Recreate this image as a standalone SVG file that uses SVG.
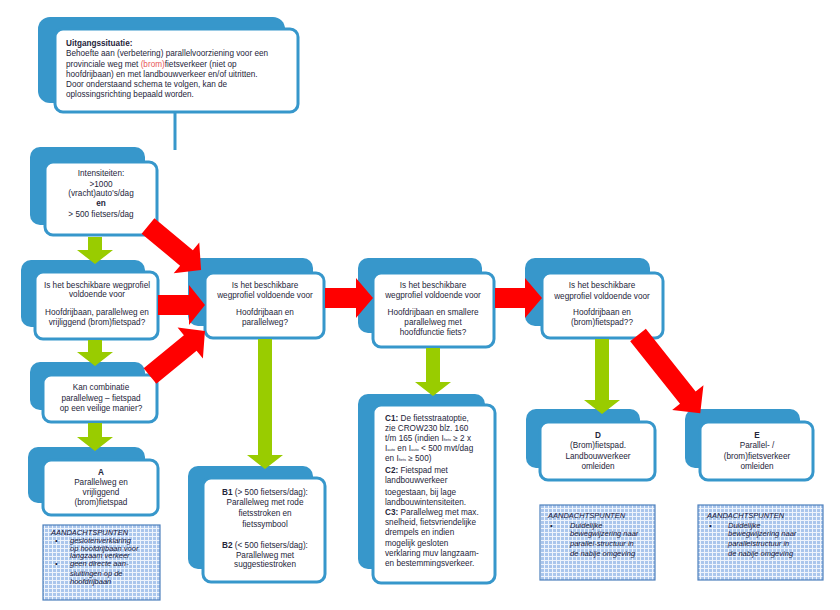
<svg xmlns="http://www.w3.org/2000/svg" width="840" height="610" viewBox="0 0 840 610">
<defs>
<pattern id="grid" width="4" height="4" patternUnits="userSpaceOnUse">
<rect width="4" height="4" fill="#aac6ec"/>
<path d="M0 0.5H4M0.5 0V4" stroke="#eef4fc" stroke-width="1"/>
</pattern>
<style>
.back{fill:#3797cb}
.front{fill:#fff;stroke:#3797cb;stroke-width:3}
text{font-family:"Liberation Sans",Arial,sans-serif;font-size:8.2px;fill:#25253a}
.c{text-anchor:middle}
.b{font-weight:bold}
.note{fill:url(#grid);stroke:#4f81bd;stroke-width:1.2}
.n text{font-style:italic;font-size:7.5px;fill:#14143a}
.red{fill:#ff0000}
.green{fill:#99cc00}
.sub{font-size:4px}
</style>
</defs>
<rect width="840" height="610" fill="#fff"/>

<g id="start">
<rect class="back" x="38" y="17" width="247" height="86" rx="12"/>
<rect class="front" x="55" y="29" width="243" height="83" rx="8"/>
<text x="66" y="46"><tspan class="b">Uitgangssituatie:</tspan></text>
<text x="66" y="56">Behoefte aan (verbetering) parallelvoorziening voor een</text>
<text x="66" y="67">provinciale weg met <tspan fill="#e8585a">(brom)</tspan>fietsverkeer (niet op</text>
<text x="66" y="77">hoofdrijbaan) en met  landbouwverkeer en/of uitritten.</text>
<text x="66" y="87">Door onderstaand schema te volgen, kan de</text>
<text x="66" y="97">oplossingsrichting bepaald worden.</text>
</g>

<g id="intensiteiten">
<rect class="back" x="30" y="147" width="115" height="78" rx="10"/>
<rect class="front" x="45" y="162" width="112" height="73" rx="8"/>
<text class="c" x="101" y="176">Intensiteiten:</text>
<text class="c" x="101" y="187">&gt;1000</text>
<text class="c" x="101" y="196">(vracht)auto’s/dag</text>
<text class="c b" x="101" y="206">en</text>
<text class="c" x="101" y="217">&gt; 500 fietsers/dag</text>
</g>

<g id="vraag1">
<rect class="back" x="21" y="260" width="124" height="67" rx="10"/>
<rect class="front" x="35" y="272" width="123" height="67" rx="8"/>
<text class="c" x="97" y="288">Is het beschikbare wegprofiel</text>
<text class="c" x="97" y="297">voldoende voor</text>
<text class="c" x="97" y="315">Hoofdrijbaan, parallelweg en</text>
<text class="c" x="97" y="325">vrijliggend (brom)fietspad?</text>
</g>

<g id="combinatie">
<rect class="back" x="30" y="362" width="115" height="48" rx="10"/>
<rect class="front" x="43" y="375" width="114" height="47" rx="8"/>
<text class="c" x="101" y="390">Kan combinatie</text>
<text class="c" x="101" y="401">parallelweg – fietspad</text>
<text class="c" x="101" y="411">op een veilige manier?</text>
</g>

<g id="A">
<rect class="back" x="28" y="447" width="117" height="56" rx="10"/>
<rect class="front" x="43" y="460" width="115" height="55" rx="8"/>
<text class="c b" x="101" y="475">A</text>
<text class="c" x="101" y="485">Parallelweg en</text>
<text class="c" x="101" y="495">vrijliggend</text>
<text class="c" x="101" y="505">(brom)fietspad</text>
</g>

<g id="aandacht-A" class="n">
<rect class="note" x="43" y="525" width="117" height="75"/>
<text x="51" y="534.5">AANDACHTSPUNTEN</text>
<text x="55" y="543">•</text>
<text x="70" y="543">geslotenverklaring</text>
<text x="70" y="550.5">op hoofdrijbaan voor</text>
<text x="70" y="558">langzaam verkeer</text>
<text x="55" y="566">•</text>
<text x="70" y="566">geen directe aan-</text>
<text x="70" y="575.5">sluitingen op de</text>
<text x="70" y="583.5">hoofdrijbaan</text>
</g>

<g id="vraagB">
<rect class="back" x="188" y="258" width="125" height="68" rx="10"/>
<rect class="front" x="205" y="273" width="119" height="65" rx="8"/>
<text class="c" x="265" y="288">Is het beschikbare</text>
<text class="c" x="265" y="298">wegprofiel voldoende voor</text>
<text class="c" x="265" y="315">Hoofdrijbaan en</text>
<text class="c" x="265" y="325">parallelweg?</text>
</g>

<g id="B">
<rect class="back" x="188" y="466" width="125" height="103" rx="10"/>
<rect class="front" x="203" y="478" width="122" height="104" rx="8"/>
<text class="c" x="265" y="495"><tspan class="b">B1</tspan> (&gt; 500 fietsers/dag):</text>
<text class="c" x="265" y="505">Parallelweg met rode</text>
<text class="c" x="265" y="516">fietsstroken en</text>
<text class="c" x="265" y="527">fietssymbool</text>
<text class="c" x="265" y="548"><tspan class="b">B2</tspan> (&lt; 500 fietsers/dag):</text>
<text class="c" x="265" y="558">Parallelweg met</text>
<text class="c" x="265" y="567">suggestiestroken</text>
</g>

<g id="vraagC">
<rect class="back" x="358" y="258" width="124" height="75" rx="10"/>
<rect class="front" x="373" y="273" width="121" height="74" rx="8"/>
<text class="c" x="433" y="288">Is het beschikbare</text>
<text class="c" x="433" y="298">wegprofiel voldoende voor</text>
<text class="c" x="433" y="315">Hoofdrijbaan en smallere</text>
<text class="c" x="433" y="325">parallelweg met</text>
<text class="c" x="433" y="335">hoofdfunctie fiets?</text>
</g>

<g id="C">
<rect class="back" x="358" y="394" width="127" height="175" rx="10"/>
<rect class="front" x="373" y="405" width="122" height="178" rx="8"/>
<text x="385" y="421"><tspan class="b">C1:</tspan> De fietsstraatoptie,</text>
<text x="385" y="431">zie CROW230 blz. 160</text>
<text x="385" y="441">t/m 165 (indien I<tspan class="sub">fiets</tspan> ≥ 2 x</text>
<text x="385" y="451">I<tspan class="sub">auto</tspan> en I<tspan class="sub">auto</tspan> &lt; 500 mvt/dag</text>
<text x="385" y="461">en I<tspan class="sub">fiets</tspan> ≥ 500)</text>
<text x="385" y="473"><tspan class="b">C2:</tspan> Fietspad met</text>
<text x="385" y="483">landbouwverkeer</text>
<text x="385" y="495">toegestaan, bij lage</text>
<text x="385" y="505">landbouwintensiteiten.</text>
<text x="385" y="515"><tspan class="b">C3:</tspan> Parallelweg met max.</text>
<text x="385" y="525">snelheid, fietsvriendelijke</text>
<text x="385" y="535">drempels en indien</text>
<text x="385" y="546">mogelijk gesloten</text>
<text x="385" y="556">verklaring muv langzaam-</text>
<text x="385" y="566">en bestemmingsverkeer.</text>
</g>

<g id="vraagD">
<rect class="back" x="525" y="258" width="125" height="68" rx="10"/>
<rect class="front" x="542" y="273" width="121" height="65" rx="8"/>
<text class="c" x="602" y="288">Is het beschikbare</text>
<text class="c" x="602" y="299">wegprofiel voldoende voor</text>
<text class="c" x="602" y="315">Hoofdrijbaan en</text>
<text class="c" x="602" y="325">(brom)fietspad??</text>
</g>

<g id="D">
<rect class="back" x="526" y="409" width="114" height="59" rx="10"/>
<rect class="front" x="540" y="422" width="115" height="58" rx="8"/>
<text class="c b" x="598" y="438">D</text>
<text class="c" x="598" y="448">(Brom)fietspad.</text>
<text class="c" x="598" y="459">Landbouwverkeer</text>
<text class="c" x="598" y="469">omleiden</text>
</g>

<g id="E">
<rect class="back" x="685" y="409" width="115" height="59" rx="10"/>
<rect class="front" x="700" y="422" width="113" height="58" rx="8"/>
<text class="c b" x="757" y="438">E</text>
<text class="c" x="757" y="448">Parallel- /</text>
<text class="c" x="757" y="459">(brom)fietsverkeer</text>
<text class="c" x="757" y="469">omleiden</text>
</g>

<g id="aandacht-D" class="n">
<rect class="note" x="540" y="505" width="115" height="75"/>
<text x="548" y="518">AANDACHTSPUNTEN</text>
<text x="550" y="528">•</text>
<text x="570" y="528">Duidelijke</text>
<text x="570" y="536">bewegwijzering naar</text>
<text x="570" y="546">parallel-structuur in</text>
<text x="570" y="556">de nabije omgeving</text>
</g>

<g id="aandacht-E" class="n">
<rect class="note" x="698" y="505" width="125" height="75"/>
<text x="707" y="518">AANDACHTSPUNTEN</text>
<text x="709" y="528">•</text>
<text x="728" y="528">Duidelijke</text>
<text x="728" y="536">bewegwijzering naar</text>
<text x="728" y="546">parallelstructuur in</text>
<text x="728" y="556">de nabije omgeving</text>
</g>

<g id="connectors">
<line x1="175" y1="113" x2="175" y2="150" stroke="#3797cb" stroke-width="3"/>
<polygon class="green" points="88,237 102,237 102,250 113,250 95,264 77,250 88,250"/>
<polygon class="green" points="88,340 102,340 102,352 113,352 95,366 77,352 88,352"/>
<polygon class="green" points="88,423 102,423 102,437 113,437 95,451 77,437 88,437"/>
<polygon class="green" points="258,339 272,339 272,455 283,455 265,469 247,455 258,455"/>
<polygon class="green" points="426,348 440,348 440,382 451,382 433,396 415,382 426,382"/>
<polygon class="green" points="595,339 609,339 609,400 620,400 602,414 584,400 595,400"/>
<polygon class="red" points="158,295 189,295 189,285 205,305 189,325 189,315 158,315"/>
<polygon class="red" points="325,288 356,288 356,278 373,298 356,318 356,308 325,308"/>
<polygon class="red" points="495,288 525,288 525,278 542,298 525,318 525,308 495,308"/>
<polygon class="red" transform="translate(148,226) rotate(39.7)" points="0,-10 50,-10 50,-20 69,0 50,20 50,10 0,10"/>
<polygon class="red" transform="translate(150,376) rotate(-39.3)" points="0,-10 52,-10 52,-20 71,0 52,20 52,10 0,10"/>
<polygon class="red" transform="translate(638,335) rotate(51.5)" points="0,-10 80,-10 80,-20 100,0 80,20 80,10 0,10"/>
</g>
</svg>
